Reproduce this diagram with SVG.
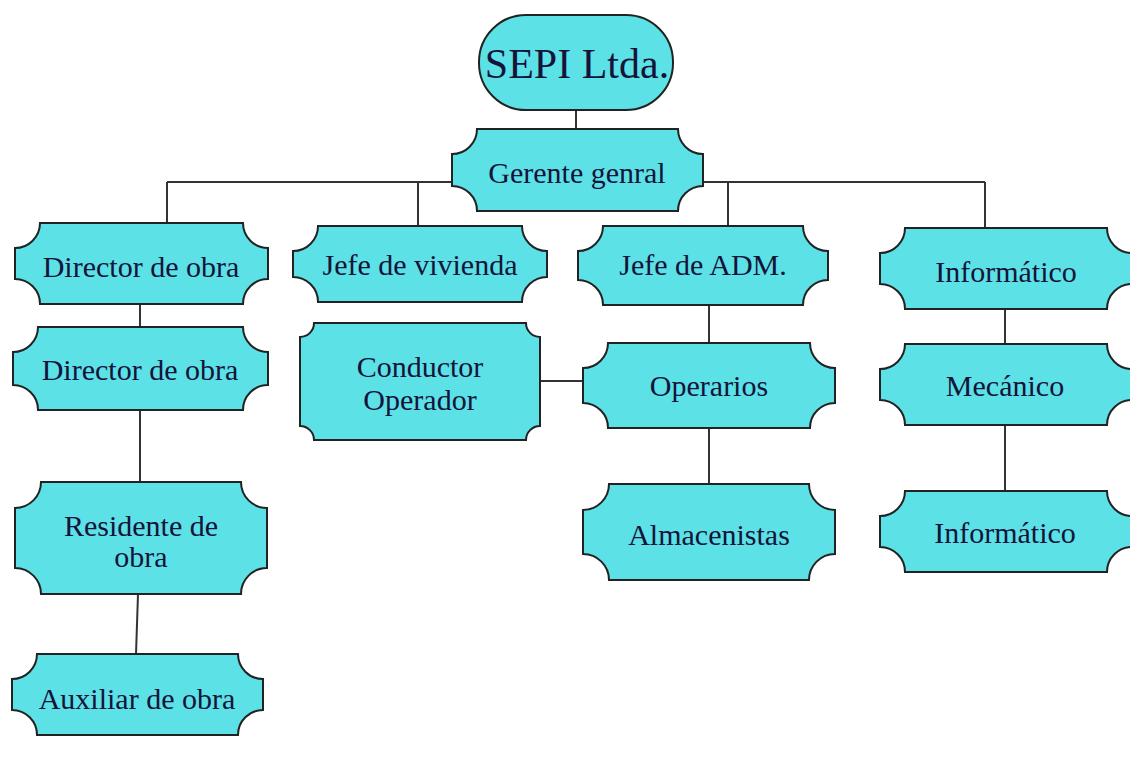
<svg xmlns="http://www.w3.org/2000/svg" width="1130" height="762" viewBox="0 0 1130 762">
<style>
.n{fill:#5ce1e6;stroke:#222;stroke-width:2}
.t{font-family:"Liberation Serif","Times New Roman",serif;font-size:30px;fill:#14143a;text-anchor:middle}
.c{stroke:#333;stroke-width:2;fill:none}
</style>
<rect width="1130" height="762" fill="#ffffff"/>
<g id="connectors">
<line class="c" x1="576" y1="110" x2="576" y2="129"/>
<line class="c" x1="167" y1="182" x2="985" y2="182"/>
<line class="c" x1="167" y1="182" x2="167" y2="223"/>
<line class="c" x1="418" y1="182" x2="418" y2="226"/>
<line class="c" x1="728" y1="182" x2="728" y2="226"/>
<line class="c" x1="985" y1="182" x2="985" y2="228"/>
<line class="c" x1="140" y1="304" x2="140" y2="327"/>
<line class="c" x1="140" y1="410" x2="140" y2="482"/>
<line class="c" x1="138" y1="594" x2="136" y2="654"/>
<line class="c" x1="709" y1="305" x2="709" y2="343"/>
<line class="c" x1="540" y1="381" x2="583" y2="381"/>
<line class="c" x1="709" y1="428" x2="709" y2="484"/>
<line class="c" x1="1005" y1="309" x2="1005" y2="344"/>
<line class="c" x1="1005" y1="425" x2="1005" y2="491"/>
</g>
<g id="sepi">
<rect class="n" x="479" y="15" width="194" height="95" rx="47" ry="47"/>
<text class="t" x="577" y="78" style="font-size:42px">SEPI Ltda.</text>
</g>
<g id="gerente">
<path class="n" d="M477,129 H678 A25,25 0 0 0 703,154 V186 A25,25 0 0 0 678,211 H477 A25,25 0 0 0 452,186 V154 A25,25 0 0 0 477,129 Z"/>
<text class="t" x="577" y="183">Gerente genral</text>
</g>
<g id="director1">
<path class="n" d="M40,223 H243 A25,25 0 0 0 268,248 V279 A25,25 0 0 0 243,304 H40 A25,25 0 0 0 15,279 V248 A25,25 0 0 0 40,223 Z"/>
<text class="t" x="141" y="277">Director de obra</text>
</g>
<g id="jefe-vivienda">
<path class="n" d="M318,226 H522 A25,25 0 0 0 547,251 V277 A25,25 0 0 0 522,302 H318 A25,25 0 0 0 293,277 V251 A25,25 0 0 0 318,226 Z"/>
<text class="t" x="420" y="275">Jefe de vivienda</text>
</g>
<g id="jefe-adm">
<path class="n" d="M603,226 H803 A25,25 0 0 0 828,251 V280 A25,25 0 0 0 803,305 H603 A25,25 0 0 0 578,280 V251 A25,25 0 0 0 603,226 Z"/>
<text class="t" x="703" y="275">Jefe de ADM.</text>
</g>
<g id="informatico1">
<path class="n" d="M905,228 H1107 A25,25 0 0 0 1132,253 V284 A25,25 0 0 0 1107,309 H905 A25,25 0 0 0 880,284 V253 A25,25 0 0 0 905,228 Z"/>
<text class="t" x="1006" y="282">Informático</text>
</g>
<g id="director2">
<path class="n" d="M38,327 H243 A25,25 0 0 0 268,352 V385 A25,25 0 0 0 243,410 H38 A25,25 0 0 0 13,385 V352 A25,25 0 0 0 38,327 Z"/>
<text class="t" x="140" y="380">Director de obra</text>
</g>
<g id="conductor">
<path class="n" d="M314,323 H526 A14,14 0 0 0 540,337 V426 A14,14 0 0 0 526,440 H314 A14,14 0 0 0 300,426 V337 A14,14 0 0 0 314,323 Z"/>
<text class="t" x="420" y="377">Conductor</text>
<text class="t" x="420" y="410">Operador</text>
</g>
<g id="operarios">
<path class="n" d="M608,343 H810 A25,25 0 0 0 835,368 V403 A25,25 0 0 0 810,428 H608 A25,25 0 0 0 583,403 V368 A25,25 0 0 0 608,343 Z"/>
<text class="t" x="709" y="396">Operarios</text>
</g>
<g id="mecanico">
<path class="n" d="M905,344 H1107 A25,25 0 0 0 1132,369 V400 A25,25 0 0 0 1107,425 H905 A25,25 0 0 0 880,400 V369 A25,25 0 0 0 905,344 Z"/>
<text class="t" x="1005" y="396">Mecánico</text>
</g>
<g id="residente">
<path class="n" d="M41,482 H241 A26,26 0 0 0 267,508 V568 A26,26 0 0 0 241,594 H41 A26,26 0 0 0 15,568 V508 A26,26 0 0 0 41,482 Z"/>
<text class="t" x="141" y="536">Residente de</text>
<text class="t" x="141" y="567">obra</text>
</g>
<g id="almacenistas">
<path class="n" d="M609,484 H809 A26,26 0 0 0 835,510 V554 A26,26 0 0 0 809,580 H609 A26,26 0 0 0 583,554 V510 A26,26 0 0 0 609,484 Z"/>
<text class="t" x="709" y="545">Almacenistas</text>
</g>
<g id="informatico2">
<path class="n" d="M905,491 H1107 A25,25 0 0 0 1132,516 V547 A25,25 0 0 0 1107,572 H905 A25,25 0 0 0 880,547 V516 A25,25 0 0 0 905,491 Z"/>
<text class="t" x="1005" y="543">Informático</text>
</g>
<g id="auxiliar">
<path class="n" d="M37,654 H238 A25,25 0 0 0 263,679 V710 A25,25 0 0 0 238,735 H37 A25,25 0 0 0 12,710 V679 A25,25 0 0 0 37,654 Z"/>
<text class="t" x="137" y="709">Auxiliar de obra</text>
</g>
</svg>
